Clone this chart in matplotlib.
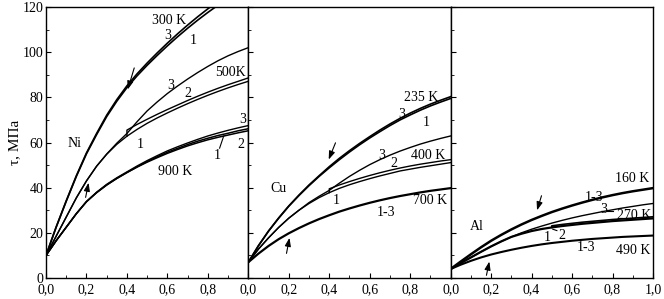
import matplotlib
matplotlib.use("Agg")
import matplotlib.pyplot as plt
from matplotlib.ticker import MultipleLocator, FuncFormatter

plt.rcParams["font.family"] = ["Liberation Serif", "DejaVu Serif"]
plt.rcParams["font.size"] = 10

# ---- data, x step 0.05 ----
xg = [i * 0.05 for i in range(21)]

# Ni
ni_300_x = xg[:19]
ni_300_1 = [10, 22.5, 34, 45, 55, 63.5, 71.5, 78.3, 84.3, 89.5, 94.2, 98.6, 102.8,
            106.8, 110.6, 114.2, 117.6, 120.8, 123.9]
ni_300_3 = [10, 22.5, 34.2, 45.3, 55.4, 64, 72.1, 79, 85.1, 90.4, 95.2, 99.7, 104,
            108.1, 112, 115.7, 119.2, 122.5, 125.7]
ni_500_1 = [10, 18.5, 27, 35.5, 43, 49.5, 54.8, 59.2, 62.8, 65.8, 68.5, 70.9, 73.1,
            75.2, 77.2, 79.1, 80.9, 82.6, 84.2, 85.7, 87.1]
ni_500_3 = [10, 18.5, 27, 35.5, 43, 49.5, 54.9, 59.7, 64, 69.2, 74, 78, 81.7,
            85, 88.1, 91, 93.7, 96.2, 98.4, 100.3, 102]
ni_500_2_x = [0.4] + xg[8:]
ni_500_2 = [62.8, 65.5, 68, 70.3, 72.5, 74.6, 76.6, 78.6, 80.5, 82.3, 84, 85.6,
            87.1, 88.6]
ni_900_1 = [10, 16.5, 22.5, 28.5, 33.8, 37.8, 41.2, 44.1, 46.7, 49.1, 51.3, 53.3,
            55.2, 56.9, 58.5, 59.9, 61.2, 62.3, 63.3, 64.3, 65.2]
ni_900_2 = [10, 16.5, 22.5, 28.5, 33.8, 37.8, 41.2, 44.1, 46.7, 49.2, 51.6, 53.7,
            55.7, 57.4, 59.1, 60.6, 61.9, 63.1, 64.1, 65.2, 66.1]
ni_900_3 = [10, 16.5, 22.5, 28.5, 33.9, 38, 41.5, 44.4, 47, 49.6, 52, 54.2,
            56.3, 58.1, 59.8, 61.4, 62.9, 64.2, 65.4, 66.5, 67.5]

# Cu
cu_235_1 = [7, 14.3, 20.8, 26.5, 31.8, 36.5, 40.9, 45, 48.8, 52.4, 55.8, 59, 62,
            64.8, 67.5, 70, 72.2, 74.3, 76.2, 77.9, 79.5]
cu_235_3 = [7, 14.3, 20.8, 26.6, 31.9, 36.7, 41.2, 45.3, 49.3, 53, 56.4, 59.6, 62.6,
            65.5, 68.2, 70.7, 73, 75.1, 77, 78.7, 80.3]
cu_400_1 = [7, 12.8, 17.8, 22.4, 26.5, 30, 33, 35.6, 37.8, 39.7, 41.3, 42.7, 44,
            45.2, 46.3, 47.4, 48.2, 49, 49.7, 50.4, 51.1]
cu_400_3 = [7, 12.8, 17.8, 22.4, 26.5, 30, 33.4, 36.2, 38.8, 42, 45, 47.7, 50.2,
            52.4, 54.4, 56.2, 57.8, 59.3, 60.6, 61.8, 62.9]
cu_400_2_x = [0.4] + xg[8:]
cu_400_2 = [37.8, 39.5, 41.2, 42.7, 44.1, 45.4, 46.6, 47.7, 48.7, 49.6, 50.4, 51.1,
            51.8, 52.4]
cu_700 = [7, 10.8, 14.2, 17.2, 19.8, 22.1, 24.2, 26.1, 27.8, 29.4, 30.8, 32.1, 33.3,
          34.4, 35.4, 36.3, 37.1, 37.9, 38.6, 39.2, 39.8]

# Al
al_160 = [4, 7.3, 10.5, 13.6, 16.5, 19.1, 21.5, 23.7, 25.7, 27.5, 29.2, 30.7, 32.1,
          33.4, 34.6, 35.7, 36.7, 37.6, 38.4, 39.1, 39.8]
al_270_3 = [4, 6.6, 9.1, 11.6, 14, 16.2, 18.2, 20, 21.6, 23, 24.3, 25.5, 26.6,
            27.6, 28.5, 29.4, 30.2, 31, 31.7, 32.4, 33]
al_270_1 = [4, 6.6, 9.1, 11.6, 14, 16.2, 18.2, 19.6, 20.8, 21.7, 22.4, 23, 23.5,
            24, 24.4, 24.8, 25.2, 25.5, 25.8, 26.1, 26.4]
al_270_2_x = [0.5] + xg[10:]
al_270_2 = [22.4, 23.1, 23.7, 24.2, 24.7, 25.1, 25.5, 25.9, 26.2, 26.5, 26.8, 27.1]
al_490 = [4, 5.9, 7.6, 9.1, 10.4, 11.5, 12.5, 13.4, 14.2, 14.9, 15.5, 16, 16.5,
          16.9, 17.3, 17.6, 17.9, 18.2, 18.4, 18.6, 18.8]

fig, axes = plt.subplots(1, 3, figsize=(6.64, 2.99), dpi=100, sharey=True)
fig.subplots_adjust(left=0.0693, right=0.9834, bottom=0.0702, top=0.9766, wspace=0)

k = "black"
ax1, ax2, ax3 = axes

# Ni panel
ax1.plot(ni_300_x, ni_300_1, color=k, lw=1.2)
ax1.plot(ni_300_x, ni_300_3, color=k, lw=1.2)
ax1.plot(xg, ni_500_1, color=k, lw=1.0)
ax1.plot(xg, ni_500_3, color=k, lw=1.0)
ax1.plot(ni_500_2_x, ni_500_2, color=k, lw=1.0)
ax1.plot(xg, ni_900_1, color=k, lw=1.1)
ax1.plot(xg, ni_900_2, color=k, lw=1.1)
ax1.plot(xg, ni_900_3, color=k, lw=1.0)

# Cu panel
ax2.plot(xg, cu_235_1, color=k, lw=1.2)
ax2.plot(xg, cu_235_3, color=k, lw=1.2)
ax2.plot(xg, cu_400_1, color=k, lw=1.0)
ax2.plot(xg, cu_400_3, color=k, lw=1.0)
ax2.plot(cu_400_2_x, cu_400_2, color=k, lw=1.0)
ax2.plot(xg, cu_700, color=k, lw=1.6)

# Al panel
ax3.plot(xg, al_160, color=k, lw=1.8)
ax3.plot(xg, al_270_3, color=k, lw=1.0)
ax3.plot(xg, al_270_1, color=k, lw=1.6)
ax3.plot(al_270_2_x, al_270_2, color=k, lw=1.2)
ax3.plot(xg, al_490, color=k, lw=1.5)

# text labels
for x, y, s in [(0.61, 114, "300 K"), (0.60, 107.5, "3"), (0.73, 105, "1"),
                (0.91, 91, "500K"), (0.614, 85.4, "3"), (0.70, 81.5, "2"),
                (0.465, 58.9, "1"), (0.14, 59.7, "Ni"), (0.64, 47, "900 K"),
                (0.97, 70, "3"), (0.965, 59.3, "2"), (0.845, 54.4, "1")]:
    ax1.text(x, y, s, ha="center", va="center")
for x, y, s in [(0.853, 80, "235 K"), (0.76, 72.6, "3"), (0.877, 69, "1"),
                (0.657, 54.4, "3"), (0.887, 54.4, "400 K"), (0.72, 50.5, "2"),
                (0.436, 34.5, "1"), (0.147, 39.8, "Cu"), (0.90, 34.5, "700 K"),
                (0.68, 29.2, "1-3")]:
    ax2.text(x, y, s, ha="center", va="center")
for x, y, s in [(0.895, 44.2, "160 K"), (0.71, 35.8, "1-3"), (0.755, 30.2, "3"),
                (0.905, 27.5, "270 K"), (0.478, 18.1, "1"), (0.552, 19, "2"),
                (0.667, 13.3, "1-3"), (0.90, 12.4, "490 K"), (0.13, 22.6, "Al")]:
    ax3.text(x, y, s, ha="center", va="center")

# leader lines
ax1.plot([0.858, 0.878], [57.5, 62.8], color=k, lw=0.8)
ax3.plot([0.505, 0.525], [21.6, 21.0], color=k, lw=0.8)
ax3.plot([0.775, 0.80], [29.8, 29.8], color=k, lw=0.8)

# arrows
arr = dict(arrowstyle="-|>,head_length=0.5,head_width=0.18", color=k, lw=0.8)
ax1.annotate("", xy=(0.40, 82.3), xytext=(0.44, 94.2), arrowprops=arr)
ax1.annotate("", xy=(0.213, 43.4), xytext=(0.193, 34.5), arrowprops=arr)
ax2.annotate("", xy=(0.392, 51.3), xytext=(0.436, 61), arrowprops=arr)
ax2.annotate("", xy=(0.206, 19), xytext=(0.186, 9.7), arrowprops=arr)
ax3.annotate("", xy=(0.423, 28.8), xytext=(0.453, 37.6), arrowprops=arr)
ax3.annotate("", xy=(0.194, 8.5), xytext=(0.174, 0), arrowprops=arr)

fmt = FuncFormatter(lambda v, p: f"{v:.1f}".replace(".", ","))
for i, ax in enumerate(axes):
    ax.set_xlim(0, 1.0)
    ax.set_ylim(0, 120)
    ax.xaxis.set_major_locator(MultipleLocator(0.2))
    ax.xaxis.set_minor_locator(MultipleLocator(0.1))
    ax.yaxis.set_major_locator(MultipleLocator(20))
    ax.yaxis.set_minor_locator(MultipleLocator(10))
    ax.xaxis.set_major_formatter(fmt)
    ax.tick_params(which="both", direction="in", top=False, right=False,
                   labelsize=10)
    ax.tick_params(axis="x", pad=4)
    ax.tick_params(axis="y", pad=2)
    ax.tick_params(which="major", length=3.5)
    ax.tick_params(which="minor", length=2)
    for sp in ax.spines.values():
        sp.set_linewidth(1.0)
    if i < 2:
        ax.set_xticks([0, 0.2, 0.4, 0.6, 0.8])
        ax.set_xlim(0, 1.0)

ax1.set_ylabel("τ, МПа", labelpad=1, fontsize=11)

fig.savefig("out.png", dpi=100)
